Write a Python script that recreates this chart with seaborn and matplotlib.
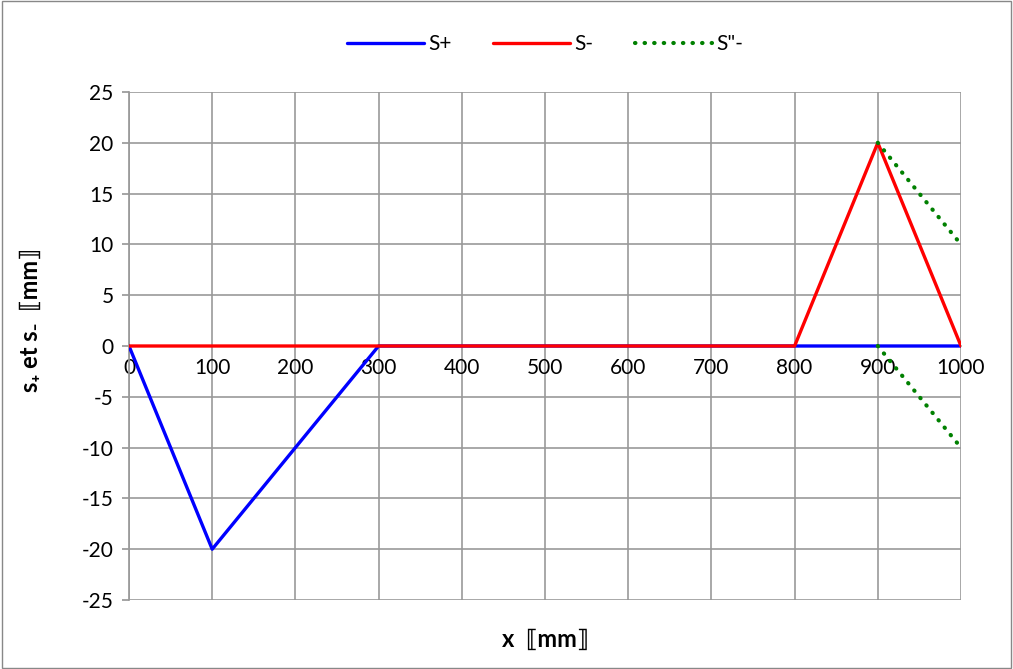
import matplotlib

matplotlib.use("Agg")
import matplotlib.pyplot as plt
import seaborn as sns

# data
X_PLUS = [0, 100, 300, 800, 900, 1000]
S_PLUS = [0, -20, 0, 0, 0, 0]
X_MINUS = [0, 300, 800, 900, 1000]
S_MINUS = [0, 0, 0, 20, 0]
X_SEC_TOP = [900, 1000]
S_SEC_TOP = [20, 10]
X_SEC_BOT = [900, 1000]
S_SEC_BOT = [0, -10]

X_TICKS = list(range(0, 1001, 100))
Y_TICKS = list(range(-25, 26, 5))


def main():
    sns.set_theme(style="white")
    plt.rcParams["font.family"] = ["Lato", "DejaVu Sans"]
    plt.rcParams["axes.unicode_minus"] = False
    plt.rcParams["text.color"] = "black"
    plt.rcParams["xtick.color"] = "black"
    plt.rcParams["ytick.color"] = "black"
    plt.rcParams["axes.labelcolor"] = "black"

    fig = plt.figure(figsize=(10.13, 6.69), dpi=100)
    ax = fig.add_axes([129 / 1013, 69 / 669, 832 / 1013, 508 / 669])

    sns.lineplot(x=X_PLUS, y=S_PLUS, ax=ax, color="#0000ff", lw=2.4,
                 label="S+", sort=False, zorder=4)
    sns.lineplot(x=X_MINUS, y=S_MINUS, ax=ax, color="#ff0000", lw=2.4,
                 label="S-", sort=False, zorder=5)
    sns.lineplot(x=X_SEC_TOP, y=S_SEC_TOP, ax=ax, color="#008000", lw=3,
                 ls=(0, (0.1, 2.2)), dash_capstyle="round", label='S"-',
                 zorder=6)
    sns.lineplot(x=X_SEC_BOT, y=S_SEC_BOT, ax=ax, color="#008000", lw=3,
                 ls=(0, (0.1, 2.2)), dash_capstyle="round", label="_nolegend_",
                 zorder=6)

    ax.set_xlim(0, 1000)
    ax.set_ylim(-25, 25)
    ax.set_xticks(X_TICKS)
    ax.set_yticks(Y_TICKS)
    ax.grid(True, color="#999999", lw=1.2)
    ax.set_axisbelow(True)

    for side in ["top", "right"]:
        ax.spines[side].set_visible(False)
    ax.spines["bottom"].set_position(("data", 0))
    ax.spines["bottom"].set_color("#999999")
    ax.spines["left"].set_color("#999999")
    ax.spines["bottom"].set_zorder(1)
    ax.tick_params(axis="y", left=True, length=5, color="#999999",
                   labelsize=15, pad=6)
    ax.tick_params(axis="x", bottom=False, labelsize=15, pad=3)

    ax.set_ylabel("s\u208a et s\u208b  ⟦mm⟧", fontsize=17, fontweight="bold")
    ax.yaxis.set_label_coords(-0.105, 0.55)
    ax.set_xlabel("x  ⟦mm⟧", fontsize=17, fontweight="bold")
    ax.xaxis.set_label_coords(0.5, -0.055)

    ax.legend(loc="lower center", bbox_to_anchor=(0.5, 1.038), ncol=3,
              frameon=False, fontsize=15, handlelength=3.7,
              handletextpad=0.2, columnspacing=2.0)

    fig.patches.append(plt.Rectangle((0.002, 0.002), 0.996, 0.996,
                                     transform=fig.transFigure, fill=False,
                                     edgecolor="#888888", lw=1))
    fig.savefig("out.png", dpi=100)
    plt.close(fig)


if __name__ == "__main__":
    main()
